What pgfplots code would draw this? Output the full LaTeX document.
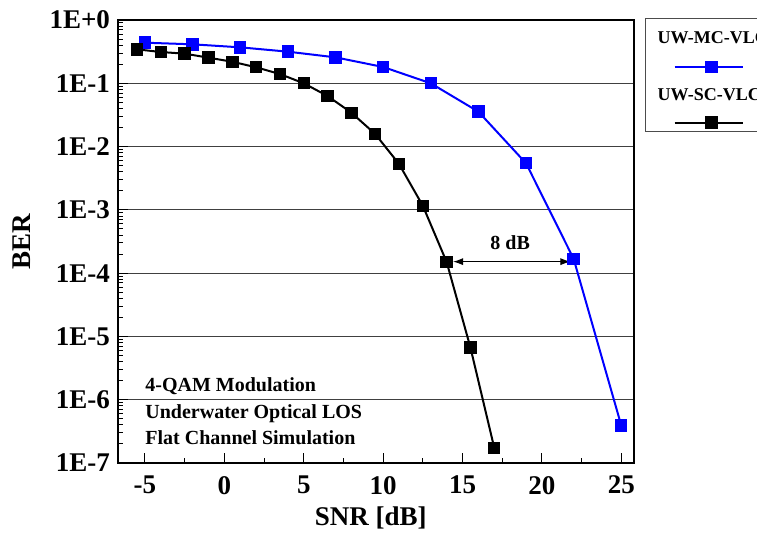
\documentclass[border=0pt]{standalone}
\usepackage{fontspec}
\setmainfont{Liberation Serif}
\usepackage{pgfplots}
\pgfplotsset{compat=1.18}
\usetikzlibrary{arrows.meta}
\pgfplotsset{
  legline/.style={legend image code/.code={%
    \draw[overlay,mark repeat=2,mark phase=2,##1] plot coordinates {(11.5pt,0pt) (30pt,0pt) (45.5pt,0pt)};}},
}
\begin{document}
\begin{tikzpicture}
\begin{axis}[
  name=ax,
  scale only axis,
  width=258pt, height=221.5pt,
  xmin=-6.7, xmax=25.8,
  ymode=log, ymin=1e-7, ymax=1,
  xtick={-5,0,...,25},
  xticklabels={-5,0,5,10,15,20,25},
  minor xtick={-2.5,2.5,...,22.5},
  ytick={1e-7,1e-6,1e-5,1e-4,1e-3,1e-2,1e-1,1},
  yticklabels={1E-7,1E-6,1E-5,1E-4,1E-3,1E-2,1E-1,1E+0},
  minor ytick={2e-7,3e-7,4e-7,5e-7,6e-7,7e-7,8e-7,9e-7,
    2e-6,3e-6,4e-6,5e-6,6e-6,7e-6,8e-6,9e-6,
    2e-5,3e-5,4e-5,5e-5,6e-5,7e-5,8e-5,9e-5,
    2e-4,3e-4,4e-4,5e-4,6e-4,7e-4,8e-4,9e-4,
    2e-3,3e-3,4e-3,5e-3,6e-3,7e-3,8e-3,9e-3,
    2e-2,3e-2,4e-2,5e-2,6e-2,7e-2,8e-2,9e-2,
    0.2,0.3,0.4,0.5,0.6,0.7,0.8,0.9},
  xtick pos=bottom, ytick pos=left,
  tick align=inside,
  major tick length=5pt, minor tick length=2.5pt,
  tick style={black, line width=0.5pt},
  ymajorgrids,
  major grid style={black!75, line width=0.6pt},
  axis line style={black, line width=0.6pt},
  ticklabel style={font=\fontsize{13.5}{15}\selectfont\bfseries},
  xticklabel style={yshift=-3pt},
  yticklabel style={xshift=-0.5pt},
  xlabel={SNR [dB]},
  ylabel={BER},
  xlabel style={at={(axis description cs:0.49,-0.124)}, anchor=center, font=\fontsize{13.5}{16}\selectfont\bfseries},
  ylabel style={at={(axis description cs:-0.186,0.5)}, anchor=center, font=\fontsize{13.5}{16}\selectfont\bfseries},
  legend style={at={(1,1)}, anchor=north west, xshift=5.5pt, yshift=1pt,
    draw=black!70, line width=0.6pt, inner xsep=3pt, inner ysep=2.875pt,
    font=\fontsize{9}{10}\selectfont\bfseries,
    nodes={text height=6.5pt, text depth=1.5pt, inner ysep=3.125pt, inner xsep=3pt},
    row sep=0pt},
  legend cell align=left,
]
\addplot[blue, line width=1pt, mark=square*, mark size=2.6pt, forget plot] coordinates {
  (-5,0.438) (-2,0.413) (1,0.370) (4,0.316) (7,0.257) (10,0.181)
  (13,0.100) (16,0.0356) (19,0.00545) (22,1.68e-4) (25,3.9e-7)
};
\addplot[black, line width=1pt, mark=square*, mark size=2.6pt, forget plot] coordinates {
  (-5.5,0.344) (-4,0.312) (-2.5,0.294) (-1,0.254) (0.5,0.219) (2,0.179)
  (3.5,0.140) (5,0.100) (6.5,0.0630) (8,0.0343) (9.5,0.0158) (11,0.00531)
  (12.5,0.00116) (14,1.50e-4) (15.5,6.65e-6) (17,1.73e-7)
};
\addlegendimage{empty legend}
\addlegendentry{UW-MC-VLC}
\addlegendimage{blue, line width=1pt, mark=square*, mark size=2.6pt, legline}
\addlegendentry{}
\addlegendimage{empty legend}
\addlegendentry{UW-SC-VLC}
\addlegendimage{black, line width=1pt, mark=square*, mark size=2.6pt, yshift=-2.4pt, legline}
\addlegendentry[text height=4pt, text depth=0pt, inner ysep=2pt]{}

\draw[{Latex[length=5pt,width=3.5pt]}-{Latex[length=5pt,width=3.5pt]}, line width=0.5pt]
  (axis cs:14.4,1.52e-4) -- (axis cs:21.8,1.52e-4);
\node[font=\fontsize{10}{12}\selectfont\bfseries] at (axis cs:18,3.0e-4) {8 dB};
\node[anchor=west, align=left, inner sep=0pt, font=\fontsize{10}{13.25}\selectfont\bfseries]
  at (axis cs:-5,6.5e-7) {4-QAM Modulation\\Underwater Optical LOS\\Flat Channel Simulation};
\end{axis}
\pgfresetboundingbox
\path[use as bounding box] ([shift={(-59pt,-37.5pt)}]ax.south west) rectangle ([shift={(319.5pt,231.5pt)}]ax.south west);
\end{tikzpicture}
\end{document}
